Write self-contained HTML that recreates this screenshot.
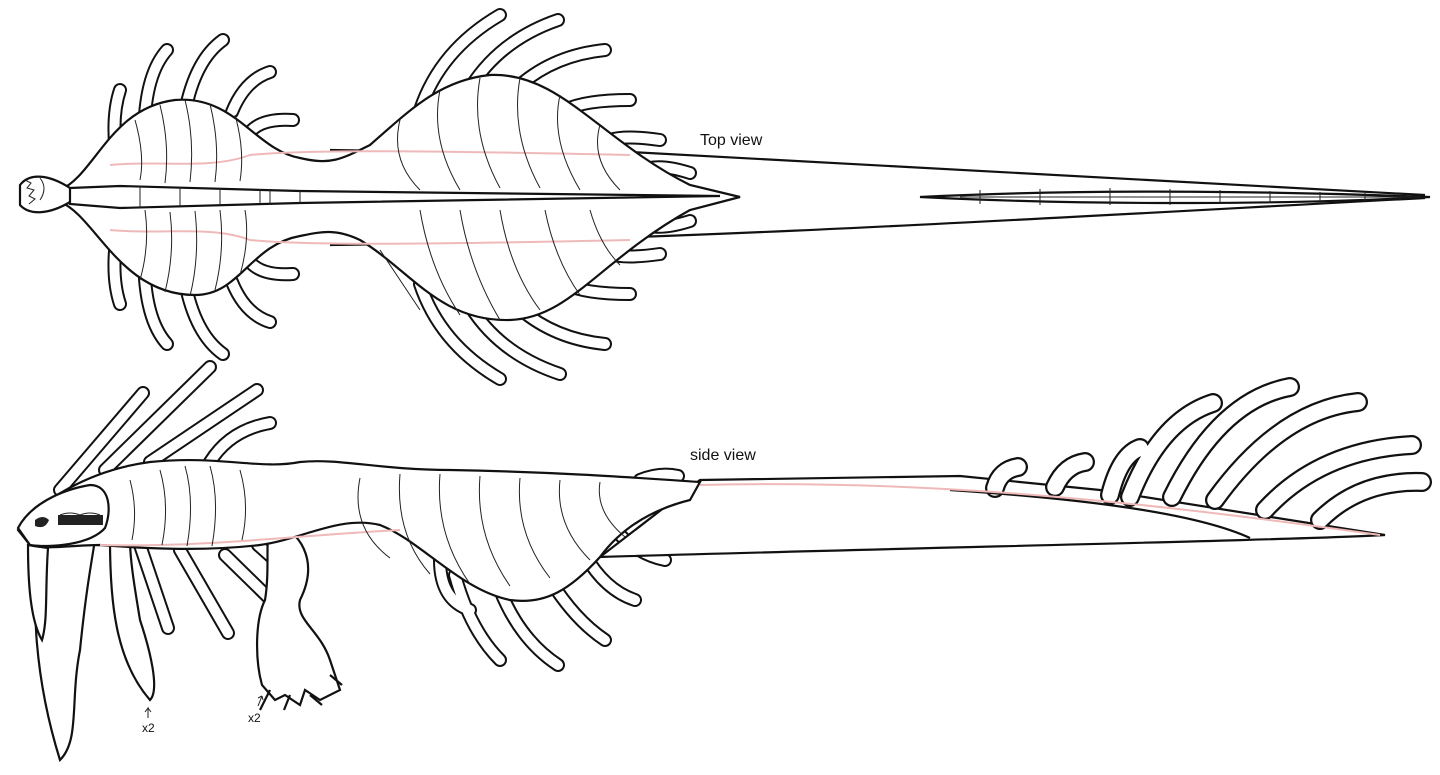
<!DOCTYPE html>
<html><head><meta charset="utf-8"><style>
html,body{margin:0;padding:0;background:#fff;width:1440px;height:775px;overflow:hidden}
svg{display:block}
text{font-family:"Liberation Sans",sans-serif;fill:#111}
</style></head><body>
<svg width="1440" height="775" viewBox="0 0 1440 775" xmlns="http://www.w3.org/2000/svg">
<defs>
<style>
.so{fill:none;stroke:#111;stroke-width:14;stroke-linecap:round}
.si{fill:none;stroke:#fff;stroke-width:10;stroke-linecap:round}
.lo{fill:none;stroke:#111;stroke-width:20;stroke-linecap:round}
.li{fill:none;stroke:#fff;stroke-width:15.5;stroke-linecap:round}
.ln{fill:none;stroke:#111;stroke-width:2.2}
.th{fill:none;stroke:#222;stroke-width:1}
.pk{fill:none;stroke:#efb9b9;stroke-width:2}
.bd{fill:#fff;stroke:#111;stroke-width:2.2}
</style>
<g id="tS">
<path d="M118,168 Q110,120 120,90"/><path d="M145,160 Q140,80 167,50"/><path d="M185,112 Q195,60 223,40"/><path d="M232,112 Q245,80 270,72"/><path d="M250,132 Q262,118 293,120"/>
<path d="M118,226 Q110,274 120,304"/><path d="M145,234 Q140,314 167,344"/><path d="M185,282 Q195,334 223,354"/><path d="M232,282 Q245,314 270,322"/><path d="M250,262 Q262,276 293,274"/>
<path d="M420,110 Q440,50 500,15"/><path d="M470,88 Q500,40 558,20"/><path d="M520,85 Q555,55 605,50"/><path d="M565,110 Q585,100 630,100"/><path d="M610,140 Q625,135 660,140"/><path d="M650,168 Q665,165 690,173"/>
<path d="M420,284 Q440,344 500,379"/><path d="M470,306 Q500,354 560,374"/><path d="M520,309 Q555,339 605,344"/><path d="M565,284 Q585,294 630,294"/><path d="M610,254 Q625,259 660,254"/><path d="M650,226 Q665,229 690,221"/>
<path d="M60,490 L143,393"/><path d="M105,470 L210,367"/><path d="M150,462 L257,390"/><path d="M210,462 Q230,430 270,423"/>
<path d="M120,540 L125,585"/><path d="M140,545 L168,628"/><path d="M180,550 L228,633"/><path d="M225,555 L273,602"/><path d="M258,545 L295,578"/>
<path d="M440,560 Q440,600 470,610"/><path d="M455,575 Q470,630 500,660"/><path d="M500,590 Q520,640 558,665"/><path d="M550,580 Q575,620 605,640"/><path d="M585,555 Q605,590 635,600"/><path d="M620,535 Q640,555 665,560"/><path d="M650,500 Q665,500 688,497"/><path d="M640,480 Q660,472 678,476"/>
</g>
<g id="fin">
<path d="M995,488 Q1000,470 1018,467"/><path d="M1055,487 Q1065,465 1085,462"/><path d="M1110,495 Q1120,455 1140,448"/><path d="M1130,497 Q1160,420 1213,403"/><path d="M1172,497 Q1220,400 1290,387"/><path d="M1215,500 Q1280,410 1358,402"/><path d="M1265,510 Q1320,450 1412,445"/><path d="M1320,520 Q1360,480 1422,482"/>
</g>
</defs>
<rect width="1440" height="775" fill="#fff"/>
<path class="ln" d="M630,152 C800,160 1100,175 1425,195"/>
<path class="ln" d="M330,245 C700,240 1100,215 1425,198"/>
<path class="bd" d="M920,197 C1100,188 1300,192 1430,197 C1300,204 1100,206 920,197Z"/>
<path class="th" d="M960,197 L1420,197 M980,190 v14 M1040,189 v16 M1110,188 v17 M1170,189 v16 M1220,190 v14 M1270,191 v12 M1320,192 v10 M1365,193 v8 M1400,194 v6"/>
<path class="ln" d="M330,150 L630,155"/>
<use href="#tS" class="so"/><use href="#tS" class="si"/>
<path class="bd" d="M60,190 C95,175 110,108 175,100 C235,95 255,150 300,158 C330,165 340,160 370,145 C410,110 440,80 490,75 C560,72 600,140 690,185 L740,197 L690,210 C600,260 570,318 510,320 C440,322 410,270 360,240 C335,228 320,232 300,236 C250,245 240,295 195,295 C120,295 95,215 60,202Z"/>
<path class="bd" d="M20,185 C30,172 50,175 70,188 L90,194 L70,202 C50,214 30,216 20,205Z"/>
<path class="th" d="M25,180 l6,3 l-4,5 l7,2 l-5,6 l6,3 l-6,5 M40,178 q8,10 0,22"/>
<path class="bd" d="M70,188 L120,186 L300,191 L720,196 L300,203 L120,208 L70,204Z"/>
<path class="th" d="M140,186 v22 M180,187 v19 M220,188 v17 M260,189 v15 M270,189 v15 M300,191 v12"/>
<path class="pk" d="M110,165 C160,160 210,170 250,155 C300,150 400,150 630,155"/>
<path class="pk" d="M110,230 C160,235 210,225 250,240 C300,245 400,245 630,240"/>
<path class="th" d="M135,120 q10,35 5,60 M160,105 q10,40 5,78 M185,100 q10,40 5,82 M210,104 q10,40 5,78 M235,115 q10,35 5,66 M140,280 q10,-35 5,-70 M165,292 q10,-40 5,-80 M190,296 q10,-40 5,-85 M215,290 q10,-40 5,-80 M240,275 q10,-35 5,-65"/>
<path class="th" d="M400,120 q-10,40 20,70 M440,90 q-10,50 20,100 M480,78 q-10,55 20,110 M520,78 q-10,55 20,110 M560,95 q-10,45 20,95 M600,125 q-10,35 20,65 M380,250 q20,30 40,60 M420,210 q10,60 40,105 M460,210 q10,60 40,110 M500,210 q10,60 40,100 M545,210 q10,50 35,85 M590,210 q10,35 30,55"/>
<path class="bd" d="M700,480 L960,476 L1100,490 L1385,535 C1300,540 900,548 600,557Z"/>
<use href="#fin" class="lo"/><use href="#fin" class="li"/>
<path class="ln" d="M950,490 C1100,500 1200,515 1250,538"/>
<path class="pk" d="M700,485 C900,480 1100,495 1380,535"/>
<path class="bd" d="M40,540 C30,600 35,680 60,760 C80,740 70,700 80,650 C85,600 90,570 95,540Z"/>
<path class="bd" d="M28,545 C28,580 30,620 42,640 C48,620 45,590 48,548Z"/>
<path class="bd" d="M110,540 C110,600 115,660 150,700 C160,690 150,650 140,620 C135,590 130,560 130,540Z"/>
<path class="bd" d="M270,520 C300,530 320,560 300,600 C295,620 320,630 330,660 L340,690 L320,700 L305,690 L300,705 L285,695 L275,700 L262,685 C255,660 255,620 265,600 C270,570 265,540 270,520Z"/>
<path class="ln" d="M270,690 l-10,20 M290,695 l-6,15 M310,695 l12,10 M330,675 l12,10"/>
<path class="bd" d="M18,530 C40,500 90,470 150,462 C220,455 260,470 300,462 C340,458 380,470 450,470 C560,472 640,478 700,482 L690,500 C650,510 620,530 600,557 C570,590 545,605 510,600 C460,590 420,540 380,525 C340,515 300,540 260,545 C200,552 140,548 100,545 C70,545 50,550 30,545Z"/>
<path class="bd" d="M18,528 C30,505 60,490 90,485 C110,485 112,510 105,528 C90,545 50,548 30,545Z"/>
<path d="M35,520 q8,-6 14,0 q-4,10 -14,6Z M58,515 h45 v10 h-45Z" fill="#222"/>
<path class="th" d="M60,515 q10,-4 20,0 q10,-4 20,0"/>
<path class="pk" d="M100,545 C200,548 300,535 400,530"/>
<path class="th" d="M130,480 q8,30 2,60 M160,470 q10,35 2,75 M185,466 q10,35 2,80 M210,466 q10,35 2,80 M240,470 q10,35 2,70 M360,478 q-10,50 30,80 M400,474 q-5,60 30,100 M440,474 q-5,60 30,110 M480,476 q-5,60 30,110 M520,478 q-5,55 30,100 M560,480 q-5,45 30,80 M600,482 q-5,30 25,55"/>
<text x="700" y="145" font-size="16">Top view</text>
<text x="690" y="460" font-size="16">side view</text>
<text x="142" y="732" font-size="12">x2</text>
<text x="248" y="722" font-size="12">x2</text>
<path class="th" d="M148,718 v-10 l-3,4 M148,708 l3,4 M258,706 l4,-10 M262,696 l-4,2 M262,696 l1,4"/>
</svg>
</body></html>
